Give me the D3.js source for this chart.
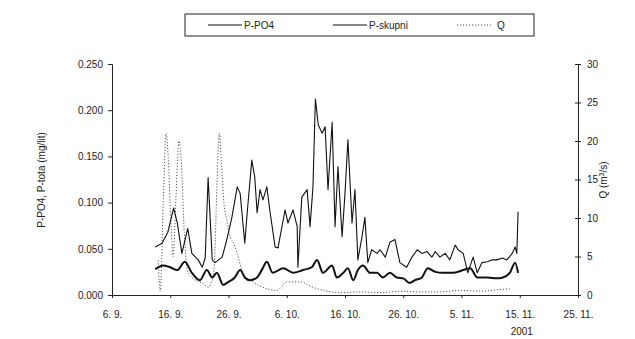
<!DOCTYPE html>
<html><head><meta charset="utf-8">
<script src="https://cdn.jsdelivr.net/npm/d3@7"></script>
<style>
body{margin:0;background:#fff;}
text{font-family:"Liberation Sans",Arial,sans-serif;fill:#222;}
</style></head>
<body><svg id="c" width="635" height="339"></svg>
<script>
// Days counted from 6 Sept 2001
const startDate = new Date(2001, 8, 6);
const tickLabels = ["6. 9.", "16. 9.", "26. 9.", "6. 10.", "16. 10.", "26. 10.", "5. 11.", "15. 11.", "25. 11."];
const leftTicks = ["0.000", "0.050", "0.100", "0.150", "0.200", "0.250"];
const rightTicks = ["0", "5", "10", "15", "20", "25", "30"];
const seriesNames = ["P-PO4", "P-skupni", "Q"];
const yearLabel = "2001";

const skupniDays = [7.4,8.6,9.6,10.6,11.2,12.0,13.0,13.7,14.8,15.5,16.0,16.5,17.2,17.7,18.9,19.7,20.6,21.5,22.0,22.8,23.3,24.0,24.5,24.9,25.4,25.9,26.6,27.1,28.0,28.5,29.7,30.2,31.1,31.8,31.9,32.6,33.5,34.0,34.5,34.9,35.4,36.1,36.6,37.1,37.8,38.3,38.8,39.5,40.0,40.5,41.2,41.7,42.2,42.9,43.4,43.9,44.6,45.5,46.0,46.9,47.7,48.6,49.4,50.6,51.5,52.4,53.2,54.1,54.9,55.5,56.3,57.2,58.0,58.9,59.4,60.3,61.1,62.0,62.7,63.5,64.4,65.2,66.1,67.0,67.8,68.7,69.2,69.5,69.7];
const skupniValues = [0.052,0.056,0.068,0.094,0.078,0.045,0.072,0.045,0.038,0.030,0.040,0.127,0.038,0.035,0.041,0.060,0.084,0.117,0.110,0.056,0.095,0.146,0.128,0.089,0.114,0.103,0.117,0.092,0.052,0.051,0.092,0.078,0.092,0.074,0.030,0.106,0.114,0.074,0.117,0.212,0.184,0.175,0.182,0.114,0.187,0.074,0.139,0.063,0.110,0.168,0.078,0.114,0.038,0.063,0.084,0.035,0.049,0.045,0.049,0.041,0.057,0.060,0.035,0.030,0.041,0.049,0.045,0.047,0.041,0.047,0.041,0.045,0.038,0.054,0.049,0.045,0.024,0.041,0.024,0.035,0.036,0.038,0.038,0.040,0.038,0.045,0.052,0.045,0.090];

const po4Days = [7.4,8.8,10.0,11.2,12.5,13.7,15.1,16.3,17.2,18.0,19.1,19.9,21.1,22.0,22.8,23.7,24.9,25.8,26.6,27.6,29.4,31.1,32.8,34.3,35.2,36.2,37.8,38.6,39.7,40.5,41.4,42.2,43.1,44.3,45.5,46.5,47.7,48.9,50.0,51.1,52.0,53.2,54.2,55.5,56.8,58.5,60.3,61.5,62.7,64.4,66.1,67.1,68.3,69.2,69.7];
const po4Values = [0.028,0.032,0.030,0.027,0.036,0.024,0.016,0.027,0.019,0.024,0.011,0.014,0.019,0.027,0.019,0.016,0.019,0.028,0.036,0.024,0.029,0.024,0.027,0.030,0.038,0.024,0.032,0.019,0.024,0.029,0.016,0.027,0.032,0.024,0.024,0.019,0.024,0.019,0.018,0.013,0.016,0.019,0.029,0.025,0.024,0.024,0.027,0.029,0.019,0.019,0.018,0.019,0.024,0.035,0.024];

const qDays = [7.9,8.3,8.8,9.3,9.7,10.1,10.5,11.0,11.5,11.9,12.4,13.0,14.2,15.6,16.5,17.2,17.6,18.0,18.4,18.8,19.2,19.7,20.3,20.8,21.5,22.5,24.2,25.9,28.3,30.0,32.3,34.5,36.9,39.1,42.6,46.0,49.4,52.9,56.3,59.7,63.2,66.6,68.3];
const qValues = [4.5,0.5,12,21,17,10,5,13,20,17,8,3,2,1.5,1,2,4,14,21,17,12,9.7,7.5,6.9,5.4,2.8,1.7,1.0,0.6,1.7,1.7,1.0,0.5,0.3,0.4,0.3,0.5,0.4,0.4,0.6,0.5,0.7,0.8];

const svg = d3.select("#c");
const L = 112, R = 578, T = 64, B = 295;
const dayDate = d => d3.timeHour.offset(startDate, Math.round(d * 24));
const x = d3.scaleTime().domain([startDate, dayDate(80)]).range([L, R]);
const yL = d3.scaleLinear().domain([0, 0.25]).range([B, T]);
const yR = d3.scaleLinear().domain([0, 30]).range([B, T]);

const xTickDates = tickLabels.map((t, i) => dayDate(i * 10));
const xAxis = d3.axisBottom(x).tickValues(xTickDates).tickFormat((d, i) => tickLabels[i]).tickSize(3).tickPadding(13);
const gx = svg.append("g").attr("transform", `translate(0,${B})`).call(xAxis);
const yAxisL = d3.axisLeft(yL).tickValues(leftTicks.map(Number)).tickFormat((d, i) => leftTicks[i]).tickSize(4).tickPadding(5);
const gl = svg.append("g").attr("transform", `translate(${L},0)`).call(yAxisL);
const yAxisR = d3.axisRight(yR).tickValues(rightTicks.map(Number)).tickFormat((d, i) => rightTicks[i]).tickSize(3).tickPadding(6);
const gr = svg.append("g").attr("transform", `translate(${R},0)`).call(yAxisR);
[gx, gl, gr].forEach(g => {
  g.selectAll("text").style("font-size", "10px").style("font-family", "Liberation Sans, Arial, sans-serif").attr("fill", "#222");
  g.selectAll("line,path").attr("stroke", "#222");
});
gr.selectAll(".tick line").attr("x1", -3).attr("x2", 3);

svg.append("text").attr("x", x(dayDate(70)) + 2).attr("y", 335).attr("text-anchor", "middle").style("font-size", "10px").text(yearLabel);

svg.append("text").attr("transform", "translate(45,180) rotate(-90)").attr("text-anchor", "middle").style("font-size", "10px").text("P-PO4, P-tota (mg/lit)");
const rl = svg.append("text").attr("transform", "translate(607,180) rotate(-90)").attr("text-anchor", "middle").style("font-size", "10px");
rl.append("tspan").text("Q (m");
rl.append("tspan").attr("baseline-shift", "super").style("font-size", "7px").text("3");
rl.append("tspan").text("/s)");

const lineL = d3.line().x(d => x(dayDate(d[0]))).y(d => yL(d[1]));
const lineLs = d3.line().curve(d3.curveMonotoneX).x(d => x(dayDate(d[0]))).y(d => yL(d[1]));
const lineR = d3.line().curve(d3.curveMonotoneX).x(d => x(dayDate(d[0]))).y(d => yR(d[1]));

svg.append("path").datum(qDays.map((d, i) => [d, qValues[i]])).attr("d", lineR)
  .attr("fill", "none").attr("stroke", "#555").attr("stroke-width", 1).attr("stroke-dasharray", "1.2,1.8");
svg.append("path").datum(skupniDays.map((d, i) => [d, skupniValues[i]])).attr("d", lineL)
  .attr("fill", "none").attr("stroke", "#111").attr("stroke-width", 1.1).attr("stroke-linejoin", "round");
svg.append("path").datum(po4Days.map((d, i) => [d, po4Values[i]])).attr("d", lineLs)
  .attr("fill", "none").attr("stroke", "#111").attr("stroke-width", 2).attr("stroke-linejoin", "round");

// legend
const lg = svg.append("g");
lg.append("rect").attr("x", 185).attr("y", 14).attr("width", 349).attr("height", 22).attr("fill", "#fff").attr("stroke", "#222").attr("stroke-width", 1);
const legendX = [208, 333, 457];
const legendStyles = [{w: 1.2, dash: null, c: "#111"}, {w: 1.2, dash: null, c: "#111"}, {w: 1, dash: "1.2,1.8", c: "#555"}];
seriesNames.forEach((n, i) => {
  const s = legendStyles[i];
  lg.append("line").attr("x1", legendX[i]).attr("x2", legendX[i] + 34).attr("y1", 25).attr("y2", 25)
    .attr("stroke", s.c).attr("stroke-width", s.w).attr("stroke-dasharray", s.dash);
  lg.append("text").attr("x", legendX[i] + (i === 2 ? 40 : 36)).attr("y", 29).style("font-size", "10px").text(n);
});
</script></body></html>
